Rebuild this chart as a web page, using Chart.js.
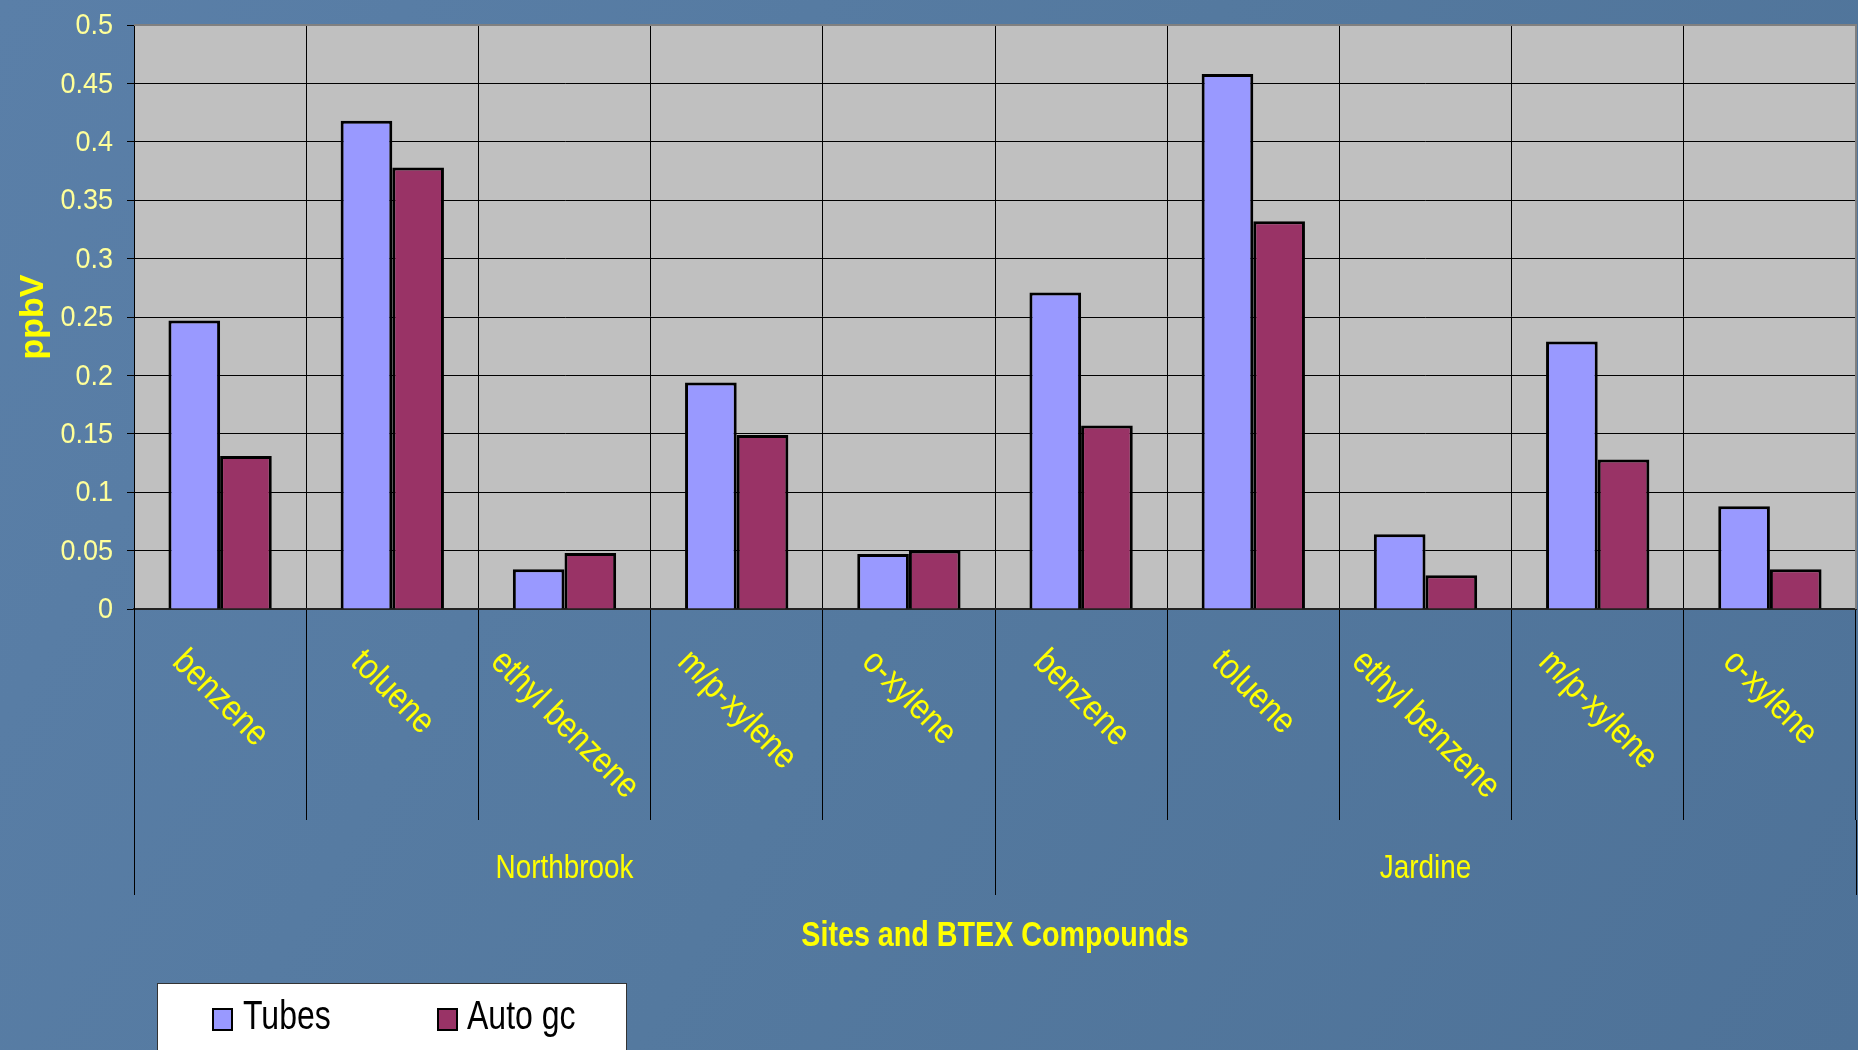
<!DOCTYPE html>
<html>
<head>
<meta charset="utf-8">
<script src="https://cdn.jsdelivr.net/npm/chart.js@4.4.1/dist/chart.umd.min.js"></script>
<style>
  html, body { margin: 0; padding: 0; background: #557aa3; }
  canvas { display: block; }
</style>
</head>
<body>
<canvas id="btex" width="1858" height="1050"></canvas>
<script>
const compounds = ['benzene', 'toluene', 'ethyl benzene', 'm/p-xylene', 'o-xylene']
const sites = ['Northbrook', 'Jardine']
const categories = sites.flatMap(() => compounds)

const tubes = [0.247, 0.418, 0.034, 0.194, 0.047, 0.271, 0.458, 0.064, 0.229, 0.088]
const autoGc = [0.131, 0.378, 0.048, 0.149, 0.050, 0.157, 0.332, 0.029, 0.128, 0.034]

const yTicks = [0, 0.05, 0.1, 0.15, 0.2, 0.25, 0.3, 0.35, 0.4, 0.45, 0.5]

const FONT = `'Liberation Sans', Arial, sans-serif`
const YELLOW = '#ffff00'
const SQUEEZE = 0.82 // condensed look for all slide text
const LABEL_DROP = 211 // length of the category dividers under the axis

// text drawn horizontally condensed around its anchor point
function narrowText(ctx, text, x, y, squeeze = SQUEEZE) {
  ctx.save()
  ctx.translate(x, y)
  ctx.scale(squeeze, 1)
  ctx.fillText(text, 0, 0)
  ctx.restore()
}

// blue slide background + grey plot panel
const backdrop = {
  id: 'backdrop',
  beforeDraw(chart) {
    const { ctx, width, height, chartArea: a } = chart
    ctx.save()
    const g = ctx.createLinearGradient(0, 0, width, height)
    g.addColorStop(0, '#5a7fa8')
    g.addColorStop(0.5, '#54799f')
    g.addColorStop(1, '#4e7298')
    ctx.fillStyle = g
    ctx.fillRect(0, 0, width, height)
    ctx.fillStyle = '#c0c0c0'
    ctx.fillRect(a.left, a.top, a.right - a.left, a.bottom - a.top)
    ctx.restore()
  }
}

// tick values, category labels, site names, axis title, legend
const decorations = {
  id: 'decorations',
  afterDraw(chart) {
    const { ctx, chartArea: a } = chart
    const x = chart.scales.x
    const y = chart.scales.y
    const half = (x.getPixelForValue(1) - x.getPixelForValue(0)) / 2

    ctx.save()

    // panel border on top and right
    ctx.strokeStyle = '#808080'
    ctx.lineWidth = 2
    ctx.beginPath()
    ctx.moveTo(a.left, a.top)
    ctx.lineTo(a.right, a.top)
    ctx.lineTo(a.right, a.bottom)
    ctx.stroke()

    // site dividers reach further down
    ctx.strokeStyle = '#000'
    ctx.lineWidth = 1
    const edges = [0, compounds.length, categories.length].map(i => x.getPixelForValue(i) - half)
    edges.forEach(px => {
      ctx.beginPath()
      ctx.moveTo(Math.round(px) + 0.5, a.bottom + LABEL_DROP)
      ctx.lineTo(Math.round(px) + 0.5, a.bottom + 286)
      ctx.stroke()
    })

    // y tick values
    ctx.fillStyle = '#ffff99'
    ctx.font = `30px ${FONT}`
    ctx.textAlign = 'right'
    ctx.textBaseline = 'middle'
    y.ticks.forEach(t => {
      narrowText(ctx, String(Number(t.value.toFixed(2))), a.left - 21, y.getPixelForValue(t.value) + 1, 0.9)
    })

    // rotated compound names
    ctx.fillStyle = YELLOW
    ctx.font = `36px ${FONT}`
    ctx.textAlign = 'center'
    categories.forEach((label, i) => {
      const w = ctx.measureText(label).width * 0.86
      const drop = (w + 27) / (2 * Math.SQRT2)
      ctx.save()
      ctx.translate(x.getPixelForValue(i), a.bottom + 38 + drop)
      ctx.rotate(Math.PI / 4)
      narrowText(ctx, label, 0, 0, 0.86)
      ctx.restore()
    })

    // site names
    ctx.font = `34px ${FONT}`
    sites.forEach((site, s) => {
      narrowText(ctx, site, (edges[s] + edges[s + 1]) / 2, a.bottom + 260)
    })

    // x axis title
    ctx.font = `bold 35px ${FONT}`
    narrowText(ctx, 'Sites and BTEX Compounds', (a.left + a.right) / 2, a.bottom + 327)

    // legend box
    ctx.fillStyle = '#ffffff'
    ctx.fillRect(157, 983, 469, 80)
    ctx.strokeStyle = '#333'
    ctx.lineWidth = 1
    ctx.strokeRect(157.5, 983.5, 469, 80)

    const items = [[213, 243], [438, 467]]
    ctx.font = `40px ${FONT}`
    ctx.textAlign = 'left'
    ctx.textBaseline = 'alphabetic'
    chart.data.datasets.forEach((ds, i) => {
      const [sx, tx] = items[i]
      ctx.fillStyle = ds.backgroundColor
      ctx.fillRect(sx, 1009, 19, 21)
      ctx.strokeStyle = '#000'
      ctx.lineWidth = 2
      ctx.strokeRect(sx, 1009, 19, 21)
      ctx.fillStyle = '#000'
      narrowText(ctx, ds.label, tx, 1029, 0.8)
    })

    ctx.restore()
  }
}

const ctx = document.getElementById('btex').getContext('2d')

const chart = new Chart(ctx, {
  type: 'bar',
  data: {
    labels: categories,
    datasets: [
      {
        label: 'Tubes',
        data: tubes,
        backgroundColor: '#9999ff',
        borderColor: '#000',
        borderWidth: 3
      },
      {
        label: 'Auto gc',
        data: autoGc,
        backgroundColor: '#993366',
        borderColor: '#000',
        borderWidth: 3
      }
    ]
  },
  options: {
    responsive: false,
    devicePixelRatio: 1,
    animation: false,
    events: [],
    layout: {
      padding: { left: 0, right: 2, top: 25, bottom: 0 }
    },
    datasets: {
      bar: {
        categoryPercentage: 0.6,
        barPercentage: 1.0
      }
    },
    plugins: {
      legend: { display: false },
      tooltip: { enabled: false }
    },
    scales: {
      x: {
        afterFit: (s) => { s.height = 441 },
        ticks: { display: false },
        grid: {
          offset: true,
          color: '#000',
          lineWidth: 1,
          tickLength: LABEL_DROP
        },
        border: { display: true, color: '#222', width: 2 }
      },
      y: {
        min: 0,
        max: 0.5,
        afterFit: (s) => { s.width = 134 },
        afterBuildTicks: (s) => {
          s.ticks = yTicks.map(v => ({ value: v }))
        },
        ticks: { display: false },
        grid: {
          color: '#000',
          lineWidth: 1,
          tickLength: 7
        },
        border: { display: true, color: '#000', width: 1 },
        title: {
          display: true,
          text: 'ppbV',
          color: YELLOW,
          font: { family: FONT, size: 34, weight: 'bold' },
          padding: { top: 13, bottom: 0 }
        }
      }
    }
  },
  plugins: [backdrop, decorations]
})
</script>
</body>
</html>
